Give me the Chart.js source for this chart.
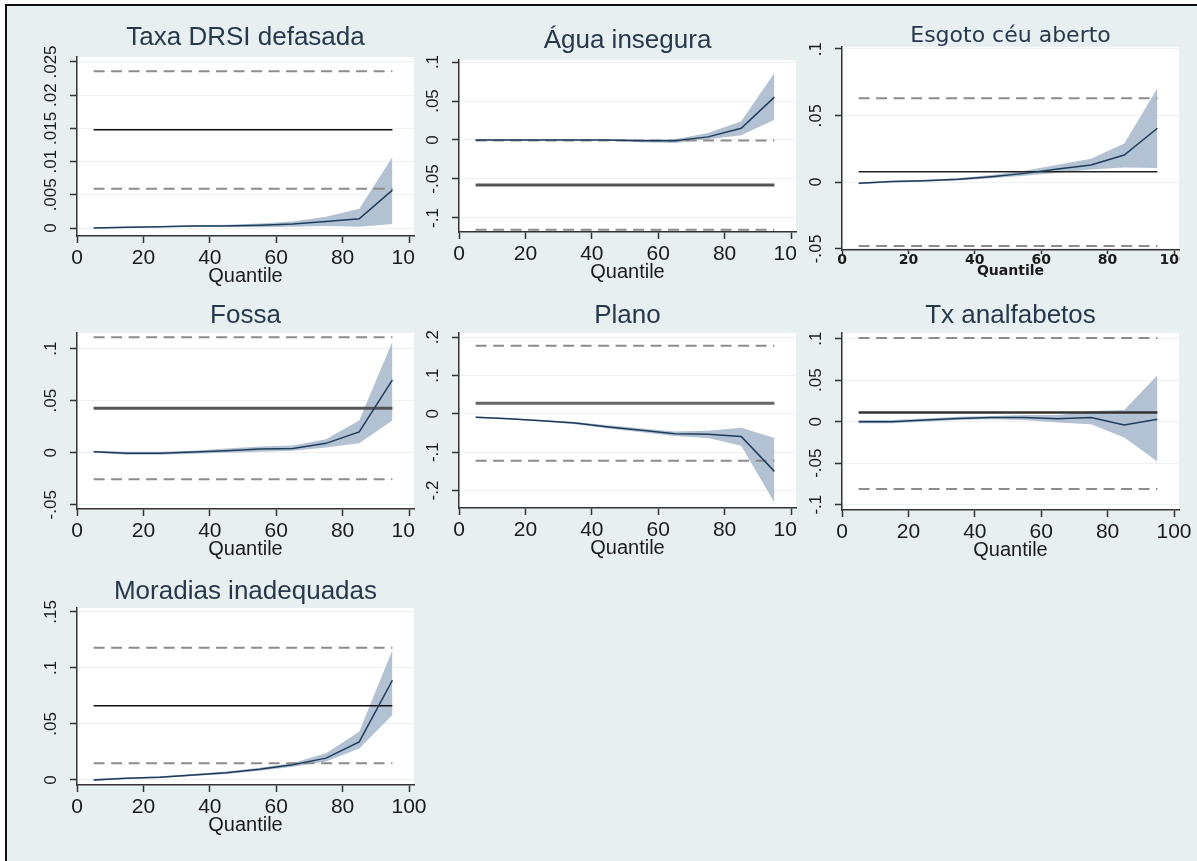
<!DOCTYPE html>
<html>
<head>
<meta charset="utf-8">
<script src="https://cdn.jsdelivr.net/npm/chart.js@4.4.1/dist/chart.umd.min.js"></script>
<style>
  html, body { margin: 0; padding: 0; width: 1197px; height: 861px; overflow: hidden; background: #fff; }
  #frame { position: absolute; left: 5px; top: 4px; width: 1210px; height: 880px;
           border-left: 2px solid #111; border-top: 2px solid #111; background: #e8eff1; }
  .cell { position: absolute; overflow: hidden; }
  .cell canvas { position: absolute; left: 0; top: 0; }
</style>
</head>
<body>
<div id="frame"></div>
<script>
// quantile grid used by every panel
const quantiles = [5, 15, 25, 35, 45, 55, 65, 75, 85, 95];
const xTicks = [0, 20, 40, 60, 80, 100];

const titles = ["Taxa DRSI defasada", "Água insegura", "Esgoto céu aberto",
                "Fossa", "Plano", "Tx analfabetos", "Moradias inadequadas"];

// quantile estimates and confidence band, one set per panel
const est1   = [0.0000, 0.0001, 0.0002, 0.0003, 0.0003, 0.0004, 0.0006, 0.0010, 0.0014, 0.0057];
const upper1 = [0.0001, 0.0002, 0.0003, 0.0004, 0.0005, 0.0007, 0.0010, 0.0017, 0.0029, 0.0107];
const lower1 = [-0.0001, 0.0000, 0.0001, 0.0002, 0.0002, 0.0001, 0.0002, 0.0003, 0.0002, 0.0006];

const est2   = [0.000, 0.000, 0.000, 0.000, 0.000, -0.001, -0.001, 0.004, 0.015, 0.055];
const upper2 = [0.001, 0.001, 0.001, 0.001, 0.001, 0.001, 0.001, 0.009, 0.024, 0.086];
const lower2 = [-0.001, -0.001, -0.001, -0.001, -0.001, -0.003, -0.004, 0.001, 0.006, 0.026];

const est3   = [-0.0010, 0.0003, 0.0010, 0.0020, 0.0040, 0.0065, 0.0098, 0.0128, 0.0203, 0.0404];
const upper3 = [-0.0005, 0.0009, 0.0017, 0.0028, 0.0052, 0.0085, 0.0130, 0.0175, 0.0290, 0.0705];
const lower3 = [-0.0017, -0.0003, 0.0004, 0.0012, 0.0028, 0.0048, 0.0070, 0.0095, 0.0110, 0.0105];

const est4   = [0.001, -0.0005, -0.0005, 0.0008, 0.002, 0.0035, 0.004, 0.009, 0.020, 0.070];
const upper4 = [0.002, 0.001, 0.001, 0.002, 0.004, 0.006, 0.007, 0.013, 0.031, 0.107];
const lower4 = [0.000, -0.002, -0.002, -0.001, 0.000, 0.001, 0.002, 0.005, 0.009, 0.031];

const est5   = [-0.009, -0.013, -0.018, -0.024, -0.034, -0.043, -0.052, -0.053, -0.059, -0.150];
const upper5 = [-0.007, -0.011, -0.016, -0.021, -0.030, -0.038, -0.046, -0.044, -0.036, -0.063];
const lower5 = [-0.011, -0.015, -0.020, -0.027, -0.038, -0.048, -0.058, -0.063, -0.083, -0.231];

const est6   = [0.000, 0.000, 0.002, 0.004, 0.005, 0.005, 0.0035, 0.005, -0.004, 0.003];
const upper6 = [0.002, 0.002, 0.004, 0.006, 0.007, 0.008, 0.008, 0.013, 0.014, 0.056];
const lower6 = [-0.002, -0.002, 0.000, 0.002, 0.003, 0.002, -0.001, -0.003, -0.019, -0.048];

const est7   = [0.000, 0.0015, 0.0025, 0.0045, 0.0065, 0.0095, 0.0135, 0.0195, 0.034, 0.089];
const upper7 = [0.001, 0.0022, 0.0033, 0.0054, 0.0076, 0.0108, 0.0152, 0.0238, 0.043, 0.116];
const lower7 = [-0.001, 0.0008, 0.0017, 0.0036, 0.0054, 0.0082, 0.0118, 0.0164, 0.028, 0.058];

// OLS coefficient (solid) and its confidence interval (dashed)
const olsCoef = [0.0148, -0.0577, 0.0077, 0.0427, 0.028, 0.011, 0.0663];
const olsHigh = [0.0236, -0.0005, 0.063, 0.111, 0.178, 0.101, 0.118];
const olsLow  = [0.0059, -0.115, -0.048, -0.0256, -0.122, -0.081, 0.0149];

const yTicks1 = [0, 0.005, 0.01, 0.015, 0.02, 0.025];
const yTicks2 = [-0.1, -0.05, 0, 0.05, 0.1];
const yTicks3 = [-0.05, 0, 0.05, 0.1];
const yTicks4 = [-0.05, 0, 0.05, 0.1];
const yTicks5 = [-0.2, -0.1, 0, 0.1, 0.2];
const yTicks6 = [-0.1, -0.05, 0, 0.05, 0.1];
const yTicks7 = [0, 0.05, 0.1, 0.15];

const series = [
  { est: est1, upper: upper1, lower: lower1, ticks: yTicks1 },
  { est: est2, upper: upper2, lower: lower2, ticks: yTicks2 },
  { est: est3, upper: upper3, lower: lower3, ticks: yTicks3 },
  { est: est4, upper: upper4, lower: lower4, ticks: yTicks4 },
  { est: est5, upper: upper5, lower: lower5, ticks: yTicks5 },
  { est: est6, upper: upper6, lower: lower6, ticks: yTicks6 },
  { est: est7, upper: upper7, lower: lower7, ticks: yTicks7 },
];

// panel placement on the page (plot region edges in px)
const ARIAL = "'Liberation Sans', Arial, sans-serif";
const DEJAVU = "'DejaVu Sans', Verdana, sans-serif";
const std = { face: ARIAL, titleSize: 26, tickSize: 21, tickWeight: "normal", ySize: 17, qSize: 20, qWeight: "normal",
              H: 52, tickLen: 7, tickPad: 3, tickLH: 1.2, yOff: 26 };
const esg = { face: DEJAVU, titleSize: 22, tickSize: 14, tickWeight: "bold", ySize: 15, qSize: 14, qWeight: "bold",
              H: 30, tickLen: 4, tickPad: 0, tickLH: 0.9, yOff: 25 };
const layout = [
  { left: 77,  top: 57,  bottom: 236, yMin: -0.0012, yMax: 0.02575, titleY: 45,  clip: 415,  ols: ["#111", 1.5], f: std },
  { left: 459, top: 60,  bottom: 232, yMin: -0.118,  yMax: 0.1026,  titleY: 48,  clip: 797,  ols: ["#555", 3],   f: std },
  { left: 842, top: 47,  bottom: 250, yMin: -0.0511, yMax: 0.1015,  titleY: 42,  clip: 1180, ols: ["#222", 1.5], f: esg },
  { left: 77,  top: 333, bottom: 509, yMin: -0.0541, yMax: 0.1151,  titleY: 323, clip: 415,  ols: ["#555", 3],   f: std },
  { left: 459, top: 333, bottom: 508, yMin: -0.2456, yMax: 0.211,   titleY: 323, clip: 797,  ols: ["#666", 3],   f: std },
  { left: 842, top: 333, bottom: 510, yMin: -0.1064, yMax: 0.1069,  titleY: 323, clip: null, ols: ["#333", 2.5], f: std },
  { left: 77,  top: 608, bottom: 785, yMin: -0.0045, yMax: 0.1535,  titleY: 599, clip: null, ols: ["#111", 1.5], f: std },
];

const W = 70, T = 45, R = 20, PLOT_W = 337, X_MAX = 101.5;
const BAND = "#b2c2d3";

const fmt = function (v) {
  if (Math.abs(v) < 1e-12) return "0";
  return String(+v.toPrecision(6)).replace(/^(-?)0\./, "$1.");
};

const makePanel = function (i) {
  const s = series[i], L = layout[i], f = L.f;
  const cw = W + PLOT_W + R;
  const ch = T + (L.bottom - L.top) + f.H;
  const cx = L.left - W, cy = L.top - T;

  const cell = document.createElement("div");
  cell.className = "cell";
  cell.style.left = cx + "px";
  cell.style.top = cy + "px";
  cell.style.width = (L.clip ? L.clip - cx : cw) + "px";
  cell.style.height = ch + "px";
  const cv = document.createElement("canvas");
  cv.width = cw; cv.height = ch;
  cell.appendChild(cv);
  document.body.appendChild(cell);

  const pts = arr => quantiles.map((q, k) => ({ x: q, y: arr[k] }));
  const flat = v => [{ x: quantiles[0], y: v }, { x: quantiles[quantiles.length - 1], y: v }];
  const none = "rgba(0,0,0,0)";

  const decor = {
    id: "decor",
    beforeDraw(chart) {
      const a = chart.chartArea, ctx = chart.ctx;
      ctx.save();
      ctx.fillStyle = "#ffffff";
      ctx.fillRect(a.left, a.top, a.right - a.left, a.bottom - a.top);
      ctx.restore();
    },
    afterDraw(chart) {
      const a = chart.chartArea, ctx = chart.ctx, ys = chart.scales.y;
      ctx.save();
      // rotated y tick labels
      ctx.fillStyle = "#1a1a1a";
      ctx.font = f.ySize + "px " + f.face;
      ctx.textAlign = "center";
      ctx.textBaseline = "middle";
      for (const t of ys.ticks) {
        ctx.save();
        ctx.translate(a.left - f.yOff, ys.getPixelForValue(t.value));
        ctx.rotate(-Math.PI / 2);
        ctx.fillText(fmt(t.value), 0, 0);
        ctx.restore();
      }
      // panel title
      ctx.fillStyle = "#26384c";
      ctx.font = f.titleSize + "px " + f.face;
      ctx.textBaseline = "alphabetic";
      ctx.fillText(titles[i], (a.left + a.right) / 2, L.titleY - cy);
      ctx.restore();
    },
  };

  new Chart(cv, {
    type: "line",
    data: {
      datasets: [
        { data: pts(s.upper), borderColor: none, borderWidth: 0, pointRadius: 0, fill: "+1", backgroundColor: BAND, order: 5 },
        { data: pts(s.lower), borderColor: none, borderWidth: 0, pointRadius: 0, fill: false, order: 4 },
        { data: flat(olsHigh[i]), borderColor: "#8c8c8c", borderWidth: 2, borderDash: [11, 6.5], pointRadius: 0, fill: false, order: 3 },
        { data: flat(olsLow[i]), borderColor: "#8c8c8c", borderWidth: 2, borderDash: [11, 6.5], pointRadius: 0, fill: false, order: 3 },
        { data: flat(olsCoef[i]), borderColor: L.ols[0], borderWidth: L.ols[1], pointRadius: 0, fill: false, order: 2 },
        { data: pts(s.est), borderColor: "#1f3b5c", borderWidth: 1.5, pointRadius: 0, fill: false, tension: 0, order: 1 },
      ],
    },
    options: {
      responsive: false,
      animation: false,
      events: [],
      devicePixelRatio: 1,
      layout: { padding: { left: 0, top: T, right: R, bottom: 0 } },
      plugins: { legend: { display: false }, tooltip: { enabled: false }, title: { display: false } },
      scales: {
        x: {
          type: "linear",
          min: 0,
          max: X_MAX,
          afterBuildTicks: sc => { sc.ticks = xTicks.map(v => ({ value: v })); },
          afterFit: sc => { sc.height = f.H; sc.paddingLeft = 0; sc.paddingRight = 0; },
          ticks: {
            autoSkip: false, maxRotation: 0, minRotation: 0, padding: f.tickPad,
            color: "#1a1a1a", font: { family: f.face, size: f.tickSize, weight: f.tickWeight, lineHeight: f.tickLH },
            callback: v => String(v),
          },
          grid: { drawOnChartArea: false, drawTicks: true, tickLength: f.tickLen, tickColor: "#333", tickWidth: 1.5 },
          border: { display: true, color: "#333", width: 1.5 },
          title: {
            display: true, text: "Quantile", color: "#1a1a1a", padding: { top: 0, bottom: 0 },
            font: { family: f.face, size: f.qSize, weight: f.qWeight, lineHeight: 1.2 },
          },
        },
        y: {
          type: "linear",
          min: L.yMin,
          max: L.yMax,
          afterBuildTicks: sc => { sc.ticks = s.ticks.map(v => ({ value: v })); },
          afterFit: sc => { sc.width = W; sc.paddingTop = 0; sc.paddingBottom = 0; },
          ticks: { display: false },
          grid: { color: "#edf1f3", lineWidth: 1, drawTicks: true, tickLength: 7, tickColor: "#333", tickWidth: 1.5 },
          border: { display: true, color: "#333", width: 1.5 },
        },
      },
    },
    plugins: [decor],
  });
};

for (let i = 0; i < titles.length; i++) {
  makePanel(i);
}
</script>
</body>
</html>
